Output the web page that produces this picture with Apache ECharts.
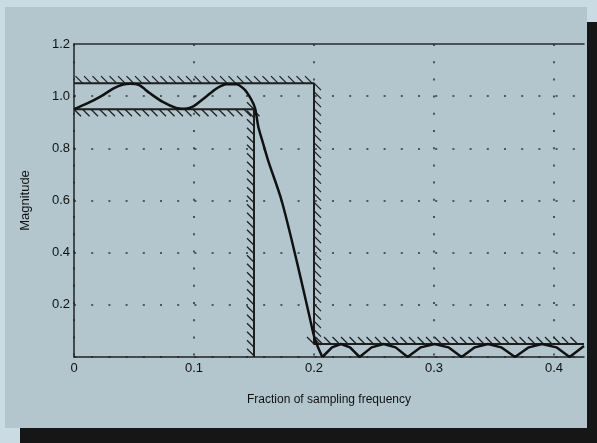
<!DOCTYPE html>
<html>
<head>
<meta charset="utf-8">
<title>Magnitude response</title>
<script src="https://cdn.jsdelivr.net/npm/echarts@6/dist/echarts.min.js"></script>
<style>
html, body { margin: 0; padding: 0; width: 597px; height: 443px; overflow: hidden; background: #cadbe4; }
#panel {
    position: absolute; left: 5px; top: 7px; width: 582px; height: 421px;
    background: #b3c6ce; box-shadow: 15px 15px 0 #161616;
}
#chart { width: 582px; height: 421px; }
</style>
</head>
<body>
<div id="panel"><div id="chart"></div></div>
<script>
// filter response (x = fraction of fs)
var passFreq = [0, 0.011, 0.022, 0.033, 0.041, 0.047, 0.054, 0.063, 0.074, 0.085, 0.092, 0.099, 0.110, 0.119, 0.127, 0.135, 0.142, 0.148, 0.151, 0.1535, 0.1575, 0.162, 0.173, 0.186, 0.197, 0.201, 0.207];
var passMag  = [0.95, 0.972, 0.998, 1.03, 1.045, 1.048, 1.043, 1.012, 0.978, 0.955, 0.952, 0.96, 0.998, 1.03, 1.046, 1.046, 1.026, 0.985, 0.952, 0.885, 0.82, 0.75, 0.6, 0.36, 0.14, 0.065, 0];

var stopFreq = [0.207, 0.215, 0.2225, 0.230, 0.238, 0.248, 0.258, 0.268, 0.278, 0.289, 0.3005, 0.312, 0.323, 0.334, 0.345, 0.356, 0.3675, 0.379, 0.390, 0.402, 0.413, 0.425];
var stopMag  = [0, 0.037, 0.05, 0.037, 0, 0.037, 0.05, 0.037, 0, 0.037, 0.05, 0.037, 0, 0.037, 0.05, 0.037, 0, 0.037, 0.05, 0.037, 0, 0.042];

// tolerance masks
var upperMaskFreq = [0, 0.2, 0.2, 0.425];
var upperMaskMag  = [1.05, 1.05, 0.05, 0.05];
var upperHatchSide = [-1, 1, -1];   // -1: hatch above/left, 1: below/right
var lowerMaskFreq = [0, 0.15, 0.15];
var lowerMaskMag  = [0.95, 0.95, 0];
var lowerHatchSide = [1, -1];

var xMin = 0, xMax = 0.425;
var yMin = 0, yMax = 1.2;

function pairs(xs, ys) {
    var out = [];
    for (var i = 0; i < xs.length; i++) out.push([xs[i], ys[i]]);
    return out;
}

function segments(xs, ys, sides) {
    var out = [];
    for (var i = 0; i < xs.length - 1; i++) {
        out.push([xs[i], ys[i], xs[i + 1], ys[i + 1], sides[i]]);
    }
    return out;
}

var hatchData = segments(upperMaskFreq, upperMaskMag, upperHatchSide)
    .concat(segments(lowerMaskFreq, lowerMaskMag, lowerHatchSide));

function renderHatch(params, api) {
    var a = api.coord([api.value(0), api.value(1)]);
    var b = api.coord([api.value(2), api.value(3)]);
    var s = api.value(4);
    var dx = b[0] - a[0], dy = b[1] - a[1];
    var len = Math.sqrt(dx * dx + dy * dy);
    var step = 8.5, d = 7;
    var kids = [];
    for (var t = 0; t <= len; t += step) {
        var px = a[0] + dx * t / len;
        var py = a[1] + dy * t / len;
        kids.push({
            type: 'line',
            shape: { x1: px, y1: py, x2: px + s * d, y2: py + s * d },
            style: { stroke: '#1e1e1e', lineWidth: 1.3 }
        });
    }
    return { type: 'group', children: kids };
}

var textColor = '#111';
var dotted = { color: '#333', width: 1.6, type: [2, 15.2] };

var chart = echarts.init(document.getElementById('chart'));
chart.setOption({
    animation: false,
    textStyle: { fontFamily: 'Liberation Sans, Arial, sans-serif' },
    grid: { left: 69, right: 3, top: 37, bottom: 71 },
    xAxis: [
        {
            type: 'value', min: xMin, max: xMax, interval: 0.1,
            name: 'Fraction of sampling frequency',
            nameLocation: 'middle', nameGap: 37,
            nameTextStyle: { fontSize: 12, color: textColor },
            axisLine: { lineStyle: { color: '#222', width: 1.5 } },
            axisTick: { show: false },
            axisLabel: {
                fontSize: 13, color: textColor, margin: 5,
                formatter: function (v) {
                    if (v === 0) return '0';
                    if (Math.abs(v * 10 - Math.round(v * 10)) > 1e-6) return '';
                    return v.toFixed(1);
                }
            },
            splitLine: { show: true, showMaxLine: false, lineStyle: dotted }
        },
        {
            type: 'value', position: 'top', min: xMin, max: xMax,
            axisLine: { show: true, lineStyle: { color: '#2a2a36', width: 1.5 } },
            axisTick: { show: false },
            axisLabel: { show: false },
            splitLine: { show: false }
        }
    ],
    yAxis: {
        type: 'value', min: yMin, max: yMax, interval: 0.2,
        name: 'Magnitude',
        nameLocation: 'middle', nameGap: 42,
        nameTextStyle: { fontSize: 13, color: textColor },
        axisLine: { show: true, lineStyle: { color: '#222', width: 1.5 } },
        axisTick: { show: false },
        axisLabel: {
            fontSize: 13, color: textColor, margin: 4,
            formatter: function (v) { return v === 0 ? '' : v.toFixed(1); }
        },
        splitLine: { show: true, showMaxLine: false, lineStyle: dotted }
    },
    series: [
        {
            type: 'custom', renderItem: renderHatch, clip: true,
            encode: { x: [0, 2], y: [1, 3] },
            data: hatchData, z: 2
        },
        {
            type: 'line', data: pairs(upperMaskFreq, upperMaskMag),
            showSymbol: false, lineStyle: { color: '#1e1e1e', width: 2 }, z: 3
        },
        {
            type: 'line', data: pairs(lowerMaskFreq, lowerMaskMag),
            showSymbol: false, lineStyle: { color: '#1e1e1e', width: 2 }, z: 3
        },
        {
            type: 'line', data: pairs(passFreq, passMag), smooth: 0.3,
            showSymbol: false, lineStyle: { color: '#111', width: 2.5 }, z: 4
        },
        {
            type: 'line', data: pairs(stopFreq, stopMag),
            showSymbol: false, lineStyle: { color: '#111', width: 2.5 }, z: 4
        }
    ]
});
</script>
</body>
</html>
